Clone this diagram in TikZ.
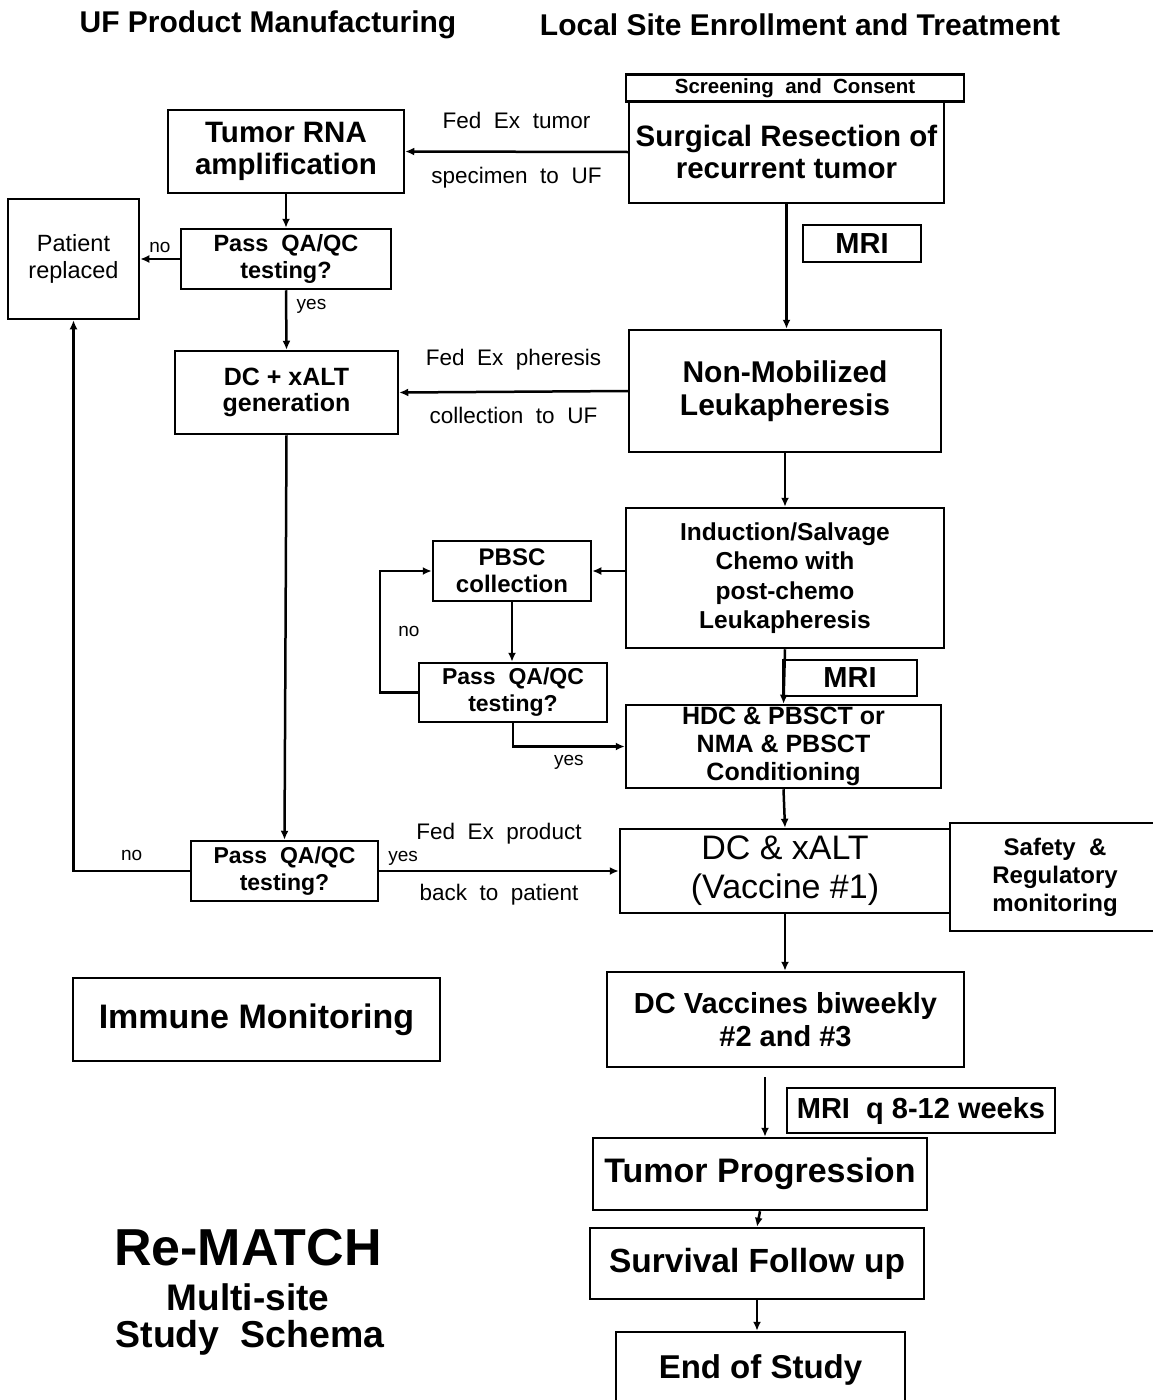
\documentclass[tikz,border=0pt]{standalone}
\usepackage{fontspec}
\setmainfont{Liberation Sans}
\usetikzlibrary{arrows.meta}
\usetikzlibrary{calc}

\newcommand{\fs}[2]{\fontsize{#1}{#2}\selectfont}

\begin{document}
\begin{tikzpicture}[x=1pt, y=-1pt,
    box/.style={draw, line width=2.5pt, align=center, inner sep=2pt, font=\bfseries},
    arr/.style={-{Latex[length=9pt,width=8pt]}, line width=2.5pt},
    lbl/.style={font=\fs{22.5}{24}},
    yn/.style={font=\fs{19}{21}}]
    \useasboundingbox (0,0) rectangle (1152,1400);
    %\draw[step=50, gray, very thin] (0,0) grid (1152,1400);

    % column titles
    \node[font=\bfseries\fs{30}{32}] (ttlUF) at (268,25) {UF Product Manufacturing};
    \node[font=\bfseries\fs{30}{32}] (ttlSite) at (800,25) {Local Site Enrollment and Treatment};

    % UF side
    \node[box, minimum width=236, minimum height=83, font=\bfseries\fs{29.5}{32}] (rna) at (286,151.5) {Tumor RNA\\amplification};
    \node[box, minimum width=131, minimum height=120, font=\fs{23.5}{27}] (repl) at (73.5,259) {Patient\\replaced};
    \node[box, minimum width=210, minimum height=60, font=\bfseries\fs{23.5}{27}] (qa1) at (286,259) {Pass~~QA/QC\\testing?};
    \node[box, minimum width=223, minimum height=83, font=\bfseries\fs{25}{26}] (gen) at (286.5,392.5) {DC + xALT\\generation};
    \node[box, minimum width=187, minimum height=60, font=\bfseries\fs{23}{27}] (qa3) at (284.5,871) {Pass~~QA/QC\\testing?};
    \node[box, minimum width=367, minimum height=83, font=\bfseries\fs{34}{36}] (immune) at (256.5,1019.5) {Immune Monitoring};

    % site side
    \node[box, minimum width=338, minimum height=27, inner sep=0pt, font=\bfseries\fs{20.5}{22}] (scr) at (795,88) {Screening~~and~~Consent};
    \node[box, minimum width=315, minimum height=102, inner sep=1pt, font=\bfseries\fs{29.5}{32}] (surg) at (786.5,152) {Surgical Resection of\\recurrent tumor};
    \node[box, minimum width=118, minimum height=37, font=\bfseries\fs{29}{30}] (mri1) at (862,243.5) {MRI};
    \node[box, minimum width=312, minimum height=122, font=\bfseries\fs{30}{33}] (nonmob) at (785,391) {Non-Mobilized\\Leukapheresis};
    \node[box, minimum width=318, minimum height=140, font=\bfseries\fs{24.5}{29.5}] (induct) at (785,578) {Induction/Salvage\\Chemo with\\post-chemo\\Leukapheresis};
    \node[box, minimum width=158, minimum height=60, font=\bfseries\fs{24}{27}] (pbsc) at (512,571) {PBSC\\collection};
    \node[box, minimum width=188, minimum height=59, font=\bfseries\fs{23}{27}] (qa2) at (513,692.5) {Pass~~QA/QC\\testing?};
    \node[box, minimum width=134, minimum height=36, font=\bfseries\fs{29}{30}] (mri2) at (850,678) {MRI};
    \node[box, minimum width=315, minimum height=83, font=\bfseries\fs{25}{28}] (hdc) at (783.5,746.5) {HDC \& PBSCT or\\NMA \& PBSCT\\Conditioning};
    \node[box, minimum width=330, minimum height=84, font=\fs{34}{39}] (vacc) at (785,871) {DC \& xALT\\(Vaccine \#1)};
    \node[box, minimum width=210, minimum height=108, font=\bfseries\fs{24}{28}] (safety) at (1055,877) {Safety~~\&\\Regulatory\\monitoring};
    \node[box, minimum width=357, minimum height=95, font=\bfseries\fs{29}{33}] (vaccb) at (785.5,1019.5) {DC Vaccines biweekly\\\#2 and \#3};
    \node[box, minimum width=268, minimum height=45, font=\bfseries\fs{29}{30}] (mriq) at (921,1110.5) {MRI~ q 8-12 weeks};
    \node[box, minimum width=334, minimum height=72, font=\bfseries\fs{34}{36}] (prog) at (760,1174) {Tumor Progression};
    \node[box, minimum width=334, minimum height=71, font=\bfseries\fs{33.5}{36}] (surv) at (757,1263.5) {Survival Follow up};
    \node[box, minimum width=289, minimum height=76, font=\bfseries\fs{33}{36}] (endst) at (760.5,1370) {End of Study};

    % schema title
    \node[font=\bfseries\fs{52}{54}] (rematch) at (248,1248) {Re-MATCH};
    \node[font=\bfseries\fs{37}{40}] (multi) at (248,1297) {Multi-site};
    \node[font=\bfseries\fs{37.5}{40}] (schema) at (250,1338) {Study~~Schema};

    \coordinate (gapq) at (765,1077);

    % connectors
    \draw[arr] (surg.west) -- (rna.east)
        node[midway, above=18pt, lbl] {Fed~ Ex~ tumor}
        node[midway, below=11pt, lbl] {specimen~ to~ UF};
    \draw[arr] (rna.south) -- (qa1.north);
    \draw[arr] (qa1.west) -- (repl.east) node[midway, above=2pt, yn] {no};
    \draw[arr] (qa1.south) -- (gen.north) node[near start, right=6pt, yshift=-1pt, yn] {yes};
    \draw[arr] (nonmob.west) -- (gen.east)
        node[midway, above=17pt, lbl] {Fed~ Ex~ pheresis}
        node[midway, below=11pt, lbl] {collection~ to~ UF};
    \draw[arr] (gen.south) -- (qa3.north);
    \draw[arr] (qa3.west) -| (repl.south) node[pos=0.25, above=6pt, yn] {no};
    \draw[arr] (qa3.east) -- (vacc.west)
        node[pos=0.1, above=1pt, yn] {yes}
        node[midway, above=22pt, lbl] {Fed~ Ex~ product}
        node[midway, below=9pt, lbl] {back~ to~ patient};
    \draw[arr] (surg.south) -- (surg.south |- nonmob.north);
    \draw[arr] (nonmob.south) -- (induct.north);
    \draw[arr] (pbsc.east -| induct.west) -- (pbsc.east);
    \draw[arr] (pbsc.south) -- (pbsc.south |- qa2.north);
    \draw[arr] (qa2.west) -- ++(-38,0) |- (pbsc.west) node[pos=0.25, right=14pt, yn] {no};
    \draw[arr] (qa2.south) |- (hdc.west) node[pos=0.75, below=4pt, yn] {yes};
    \draw[arr] (induct.south) -- (hdc.north);
    \draw[arr] (hdc.south) -- (vacc.north);
    \draw[arr] (vacc.south) -- (vacc.south |- vaccb.north);
    \draw[arr] (gapq) -- (gapq |- prog.north);
    \draw[arr] (prog.south) -- (surv.north);
    \draw[arr] (surv.south) -- (surv.south |- endst.north);
\end{tikzpicture}
\end{document}
